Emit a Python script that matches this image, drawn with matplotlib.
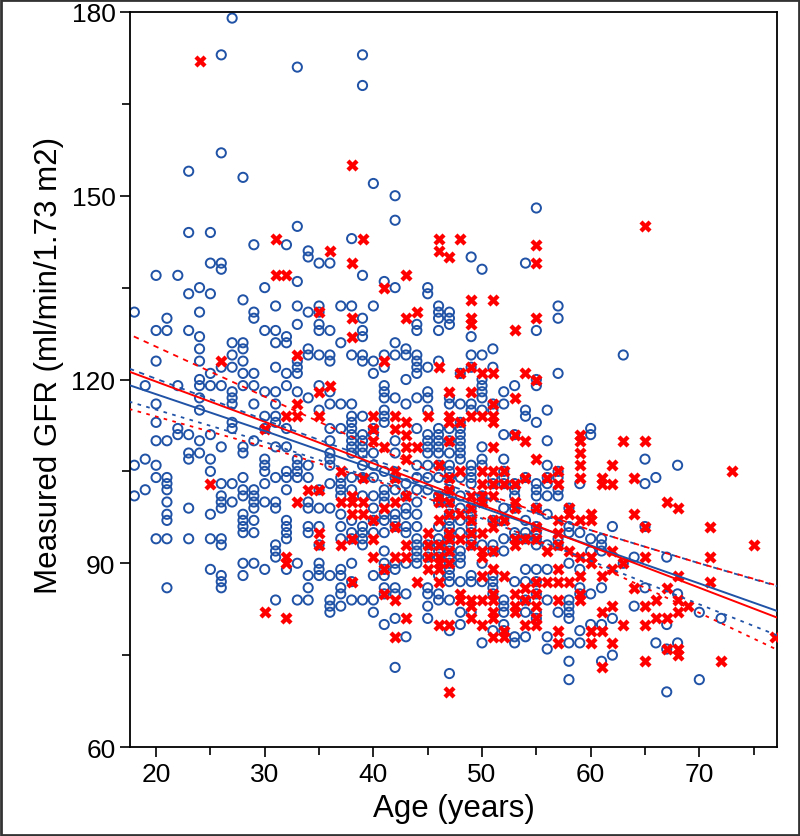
import numpy as np
import matplotlib
matplotlib.use("Agg")
import matplotlib.pyplot as plt
from matplotlib.ticker import MultipleLocator
from matplotlib.patches import Rectangle

plt.rcParams["font.family"] = ["Liberation Sans", "DejaVu Sans"]

# --- data (age in years, measured GFR) --------------------------------------
# blue open circles, listed column by column (age, then GFR values)
blue_cols = {
    18: [131, 106, 101],
    19: [119, 107, 102],
    20: [137, 128, 123, 116, 113, 110, 106, 104, 94],
    21: [130, 128, 110, 104, 103, 102, 100, 98, 97, 94, 86],
    22: [137, 119, 112, 111],
    23: [154, 144, 134, 128, 111, 108, 107, 99, 94],
    24: [135, 131, 127, 125, 123, 120, 119, 117, 115, 110, 108],
    25: [144, 139, 134, 121, 119, 111, 107, 105, 98, 94, 89],
    26: [173, 157, 139, 138, 122, 119, 109, 103, 101, 100, 99, 94, 93, 88, 87, 86],
    27: [179, 126, 124, 122, 118, 117, 116, 113, 112, 103, 100],
    28: [153, 133, 126, 125, 123, 121, 119, 109, 108, 104, 102, 101, 98, 97, 96, 95, 90, 88],
    29: [142, 131, 130, 121, 119, 116, 110, 102, 101, 100, 99, 97, 95, 90],
    30: [135, 128, 118, 114, 112, 107, 106, 105, 103, 100, 89],
    31: [132, 128, 126, 122, 118, 116, 114, 113, 109, 104, 100, 99, 93, 92, 91, 84],
    32: [142, 127, 126, 121, 119, 112, 109, 105, 104, 102, 97, 96, 95, 94, 89],
    33: [171, 145, 136, 132, 129, 123, 122, 121, 118, 107, 106, 105, 104, 90, 84],
    34: [141, 140, 131, 125, 124, 117, 106, 104, 100, 99, 96, 95, 88, 86, 84],
    35: [139, 132, 131, 129, 128, 124, 119, 115, 102, 99, 96, 93, 90, 89, 88],
    36: [139, 128, 124, 123, 118, 116, 112, 110, 108, 107, 106, 103, 99, 88, 84, 83, 82],
    37: [132, 126, 116, 112, 104, 103, 102, 101, 98, 96, 94, 89, 88, 86, 85, 83],
    38: [143, 132, 124, 116, 114, 113, 112, 111, 110, 109, 108, 104, 102, 97, 95, 94, 90, 87, 84],
    39: [173, 168, 137, 130, 128, 127, 124, 123, 114, 111, 110, 109, 108, 106, 104, 101,
         96, 95, 94, 93, 84],
    40: [152, 132, 123, 121, 112, 111, 108, 106, 104, 101, 99, 97, 95, 88, 84, 82],
    41: [136, 124, 122, 119, 118, 117, 115, 114, 113, 105, 102, 101, 100, 98, 97, 95, 92,
         90, 89, 88, 86, 85, 80],
    42: [150, 146, 135, 126, 124, 117, 110, 108, 104, 102, 98, 97, 96, 90, 89, 86, 85, 81, 73],
    43: [125, 124, 120, 116, 103, 101, 99, 98, 96, 95, 90, 85, 78],
    44: [129, 128, 124, 123, 122, 121, 117, 112, 106, 104, 102, 100, 98, 96, 94, 93, 92, 91, 90],
    45: [135, 134, 122, 118, 117, 115, 111, 110, 109, 108, 106, 104, 102, 93, 91, 86, 85, 83, 81],
    46: [132, 131, 130, 128, 123, 112, 111, 110, 109, 108, 106, 104, 101, 100, 96, 94, 93,
         92, 91, 88, 85, 84],
    47: [131, 130, 129, 117, 116, 112, 110, 108, 106, 105, 104, 102, 100, 98, 97, 96, 95,
         94, 93, 92, 91, 90, 89, 88, 87, 84, 79, 72],
    48: [121, 116, 113, 112, 111, 110, 109, 108, 107, 104, 101, 99, 97, 95, 92, 91, 90, 87, 82, 80],
    49: [140, 127, 124, 122, 116, 115, 106, 105, 104, 103, 99, 98, 97, 96, 95, 94, 93, 88, 87, 82],
    50: [138, 124, 120, 119, 118, 117, 115, 109, 107, 106, 101, 100, 93, 90, 87, 77],
    51: [125, 122, 116, 115, 104, 103, 97, 93, 92, 88, 87, 86, 85, 79],
    52: [118, 116, 111, 107, 105, 104, 103, 99, 97, 94, 92, 84, 83, 82, 80, 79],
    53: [119, 111, 103, 102, 101, 99, 95, 94, 87, 78, 77],
    54: [139, 115, 114, 104, 97, 95, 94, 89, 87, 84, 82, 78],
    55: [148, 128, 120, 119, 113, 103, 102, 101, 99, 96, 95, 94, 93, 89, 87, 85, 82, 81],
    56: [115, 110, 106, 104, 103, 101, 98, 93, 89, 84, 78, 76],
    57: [132, 130, 121, 105, 104, 102, 101, 94, 93, 82],
    58: [99, 96, 95, 90, 84, 83, 82, 81, 77, 74, 71],
    59: [103, 95, 89, 86, 85, 79, 77],
    60: [112, 111, 94, 92, 85, 80],
    61: [94, 93, 92, 86, 80, 74],
    62: [96, 81, 75],
    63: [124, 90],
    64: [91, 83],
    65: [107, 103, 96, 86],
    66: [104, 77],
    67: [91, 80, 76, 69],
    68: [106, 85, 77],
    70: [82, 71],
    72: [81],
}

# red crosses
red_cols = {
    24: [172],
    25: [103],
    26: [123],
    30: [112, 82],
    31: [143, 137],
    32: [137, 114, 91, 90, 81],
    33: [124, 116, 114, 100],
    34: [102],
    35: [131, 118, 114, 102, 95, 93],
    36: [141, 119],
    37: [105, 100, 93],
    38: [155, 139, 130, 127, 101, 100, 98, 94, 87],
    39: [143, 104, 100, 98],
    40: [114, 112, 110, 97, 94, 91],
    41: [135, 123, 109, 99, 89, 85],
    42: [114, 112, 105, 104, 100, 96, 91, 84, 78],
    43: [137, 130, 113, 111, 109, 107, 101, 93, 91, 81],
    44: [131, 109, 87],
    45: [114, 95, 93, 91, 89],
    46: [143, 141, 122, 106, 101, 100, 97, 93, 91, 90, 89, 87, 80],
    47: [140, 118, 114, 113, 110, 104, 102, 100, 98, 95, 94, 92, 90, 80, 69],
    48: [143, 121, 113, 105, 98, 94, 85, 84],
    49: [133, 130, 129, 122, 118, 114, 101, 99, 97, 95, 93, 84, 83, 81],
    50: [121, 114, 105, 103, 101, 100, 95, 92, 91, 88, 84, 80],
    51: [133, 121, 116, 114, 113, 109, 105, 103, 101, 97, 96, 92, 89, 85, 84, 82, 81, 78],
    52: [105, 103, 97, 88, 79, 78],
    53: [128, 117, 111, 103, 100, 99, 94, 93, 85, 83, 82],
    54: [121, 110, 104, 94, 86, 84, 80],
    55: [142, 139, 130, 120, 107, 99, 96, 94, 87, 85, 83, 81, 80],
    56: [104, 92, 87],
    57: [105, 103, 97, 95, 93, 89, 87, 84, 79, 77],
    58: [99, 98, 92, 87],
    59: [111, 110, 108, 106, 104, 97, 91, 88, 85, 84],
    60: [98, 97, 91, 90, 79, 77],
    61: [104, 103, 88, 82, 79, 73],
    62: [106, 103, 92, 89, 83, 77],
    63: [110, 90, 80],
    64: [104, 98, 86],
    65: [145, 110, 96, 91, 83, 80, 74],
    66: [84, 81],
    67: [100, 86, 81, 76],
    68: [99, 88, 84, 82, 76, 75],
    69: [83],
    71: [96, 91, 87],
    72: [74],
    73: [105],
    75: [93],
    77: [78],
}

blue_age = [a for a, vals in blue_cols.items() for _ in vals]
blue_gfr = [v for vals in blue_cols.values() for v in vals]
red_age = [a for a, vals in red_cols.items() for _ in vals]
red_gfr = [v for vals in red_cols.values() for v in vals]

# regression lines with confidence limits, read at these ages
line_ages = [17.5, 30, 40, 50, 60, 70, 77.5]
blue_fit = [119.1, 111.6, 105.4, 99.1, 92.9, 86.7, 82.0]
blue_upper = [121.8, 113.4, 106.9, 100.9, 95.4, 90.0, 86.1]
blue_lower = [116.4, 109.8, 103.9, 97.3, 90.4, 83.3, 78.0]
red_fit = [121.3, 113.1, 106.3, 99.5, 92.75, 86.0, 80.9]
red_upper = [127.4, 117.2, 109.0, 101.5, 95.4, 90.0, 86.2]
red_lower = [115.2, 109.0, 103.6, 97.5, 90.1, 81.9, 75.6]

BLUE = "#2052a6"
RED = "#ff0000"

fig = plt.figure(figsize=(8.0, 8.37), dpi=100)
ax = fig.add_axes([0.1625, 0.1063, 0.80875, 0.8782])

ax.scatter(blue_age, blue_gfr, s=44, marker="o", facecolors="none",
           edgecolors=BLUE, linewidths=1.4, zorder=2)
ax.scatter(red_age, red_gfr, s=76, marker="X", color=RED,
           linewidths=0, zorder=3)

ax.plot(line_ages, blue_fit, color=BLUE, lw=1.4, zorder=4)
ax.plot(line_ages, red_fit, color=RED, lw=1.4, zorder=4)
ax.plot(line_ages, blue_upper, color=BLUE, lw=1.3, ls=(0, (3, 3)), zorder=4)
ax.plot(line_ages, red_upper, color=RED, lw=1.3, ls=(3, (3, 3)), zorder=4)
ax.plot(line_ages, blue_lower, color=BLUE, lw=1.3, ls=(0, (2, 3)), zorder=4)
ax.plot(line_ages, red_lower, color=RED, lw=1.3, ls=(0, (2, 3)), zorder=4)

ax.set_xlim(17.6, 77.15)
ax.set_ylim(60, 180)
ax.xaxis.set_major_locator(MultipleLocator(10))
ax.xaxis.set_minor_locator(MultipleLocator(5))
ax.yaxis.set_major_locator(MultipleLocator(30))
ax.yaxis.set_minor_locator(MultipleLocator(15))
ax.tick_params(which="both", direction="out", width=1.2, labelsize=19)
ax.tick_params(which="major", length=7)
ax.tick_params(which="minor", length=6)
for sp in ax.spines.values():
    sp.set_linewidth(1.3)

ax.set_xlabel("Age (years)", fontsize=22.5, labelpad=5)
ax.set_ylabel("Measured GFR (ml/min/1.73 m2)", fontsize=22.5)
ax.yaxis.set_label_coords(-0.102, 0.52)

fig.patches.append(Rectangle((0.001, 0.001), 0.998, 0.998, transform=fig.transFigure,
                             fill=False, edgecolor="#333333", linewidth=2))

fig.savefig("out.png", dpi=100)
